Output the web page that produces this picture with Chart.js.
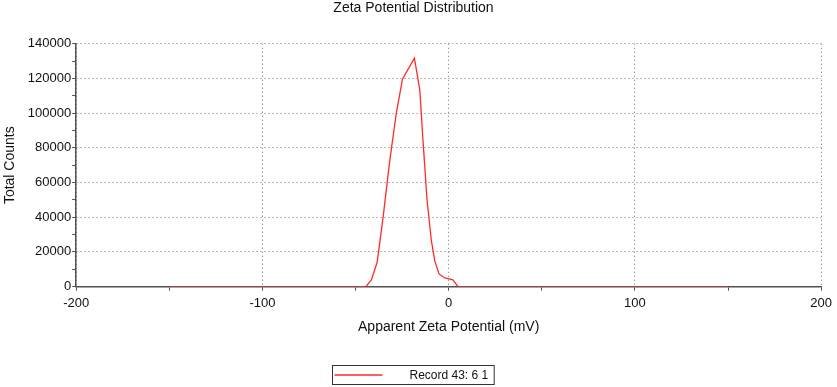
<!DOCTYPE html>
<html>
<head>
<meta charset="utf-8">
<script src="https://cdn.jsdelivr.net/npm/chart.js@4.4.1/dist/chart.umd.min.js"></script>
<style>
  html, body { margin: 0; padding: 0; background: #fff; }
  #wrap { width: 837px; height: 387px; }
</style>
</head>
<body>
<div id="wrap"><canvas id="zetaChart"></canvas></div>
<script>
// Chart data
const zetaMv = [-150, -44.5, -41.5, -38.4, -35.2, -31.6, -28, -24.8, -18.4, -15.5, -13.8, -11.6, -9.3, -7.5, -5.2, -2.1, 2.3, 5, 150];
const totalCounts = [0, 0, 3900, 14000, 40100, 72900, 100800, 119600, 131700, 113400, 84500, 49800, 26600, 15000, 7300, 5000, 3900, 0, 0];
const seriesLabel = "Record 43: 6 1";

const points = zetaMv.map((x, i) => ({ x: x, y: totalCounts[i] }));

const FONT = "'Liberation Sans', Arial, sans-serif";
const LINE_COLOR = "#ff2a2a";
const GRID_COLOR = "#7a7a7a";
const AXIS_COLOR = "#505050";

// legend drawn by hand: boxed line sample + label, centred under the chart
const boxedLegend = {
  id: "boxedLegend",
  afterDraw(chart) {
    const ctx = chart.ctx;
    const ds = chart.data.datasets[0];
    ctx.save();
    ctx.font = "12px " + FONT;
    const textW = ctx.measureText(ds.label).width;
    const sampleW = 48, gap = 27;
    const w = sampleW + gap + textW + 8;
    const h = 19;
    const left = Math.round(chart.width / 2 - w / 2) - 5.5;
    const top = chart.height - h - 2.5;
    ctx.strokeStyle = "#333";
    ctx.lineWidth = 1;
    ctx.strokeRect(left, top, w, h);
    ctx.strokeStyle = ds.borderColor;
    ctx.lineWidth = 1.5;
    ctx.beginPath();
    ctx.moveTo(left + 2, top + h / 2);
    ctx.lineTo(left + 2 + sampleW, top + h / 2);
    ctx.stroke();
    ctx.fillStyle = "#111";
    ctx.textBaseline = "middle";
    ctx.fillText(ds.label, left + 2 + sampleW + gap, top + h / 2 + 1);
    ctx.restore();
  }
};

const ctx = document.getElementById("zetaChart").getContext("2d");
const zetaChart = new Chart(ctx, {
  type: "line",
  data: {
    datasets: [
      {
        label: seriesLabel,
        data: points,
        borderColor: LINE_COLOR,
        backgroundColor: LINE_COLOR,
        borderWidth: 1.3,
        pointRadius: 0,
        tension: 0,
      },
    ],
  },
  options: {
    responsive: true,
    maintainAspectRatio: false,
    animation: false,
    layout: { padding: { left: 2, right: 12, top: 0, bottom: 26 } },
    plugins: {
      title: {
        display: true,
        text: "Zeta Potential Distribution",
        color: "#111",
        font: { family: FONT, size: 14, weight: "normal" },
        padding: { top: 0, bottom: 27 },
      },
      legend: { display: false },
      tooltip: { enabled: false },
    },
    scales: {
      x: {
        type: "linear",
        min: -200,
        max: 200,
        ticks: {
          stepSize: 50,
          color: "#111",
          font: { family: FONT, size: 13 },
          maxRotation: 0,
          autoSkip: false,
          padding: 5,
          callback: (v) => (v % 100 === 0 ? v : ""),
        },
        grid: {
          color: (c) => (c.tick && c.tick.value % 100 === 0 ? GRID_COLOR : "rgba(0,0,0,0)"),
          tickColor: AXIS_COLOR,
          tickLength: 4,
        },
        border: { color: AXIS_COLOR, width: 1.5, dash: [1, 3] },
        title: {
          display: true,
          text: "Apparent Zeta Potential (mV)",
          color: "#111",
          font: { family: FONT, size: 14 },
          padding: { top: 3, bottom: 25 },
        },
      },
      y: {
        min: 0,
        max: 140000,
        ticks: {
          stepSize: 10000,
          color: "#111",
          font: { family: FONT, size: 13 },
          autoSkip: false,
          padding: 1,
          callback: (v) => (v % 20000 === 0 ? v : ""),
        },
        grid: {
          color: (c) => (c.tick && c.tick.value % 20000 === 0 ? GRID_COLOR : "rgba(0,0,0,0)"),
          tickColor: AXIS_COLOR,
          tickLength: 4,
        },
        border: { color: AXIS_COLOR, width: 1.5, dash: [1, 3] },
        title: {
          display: true,
          text: "Total Counts",
          color: "#111",
          font: { family: FONT, size: 14 },
          padding: { top: 0, bottom: 8 },
        },
      },
    },
  },
  plugins: [boxedLegend],
});
</script>
</body>
</html>
